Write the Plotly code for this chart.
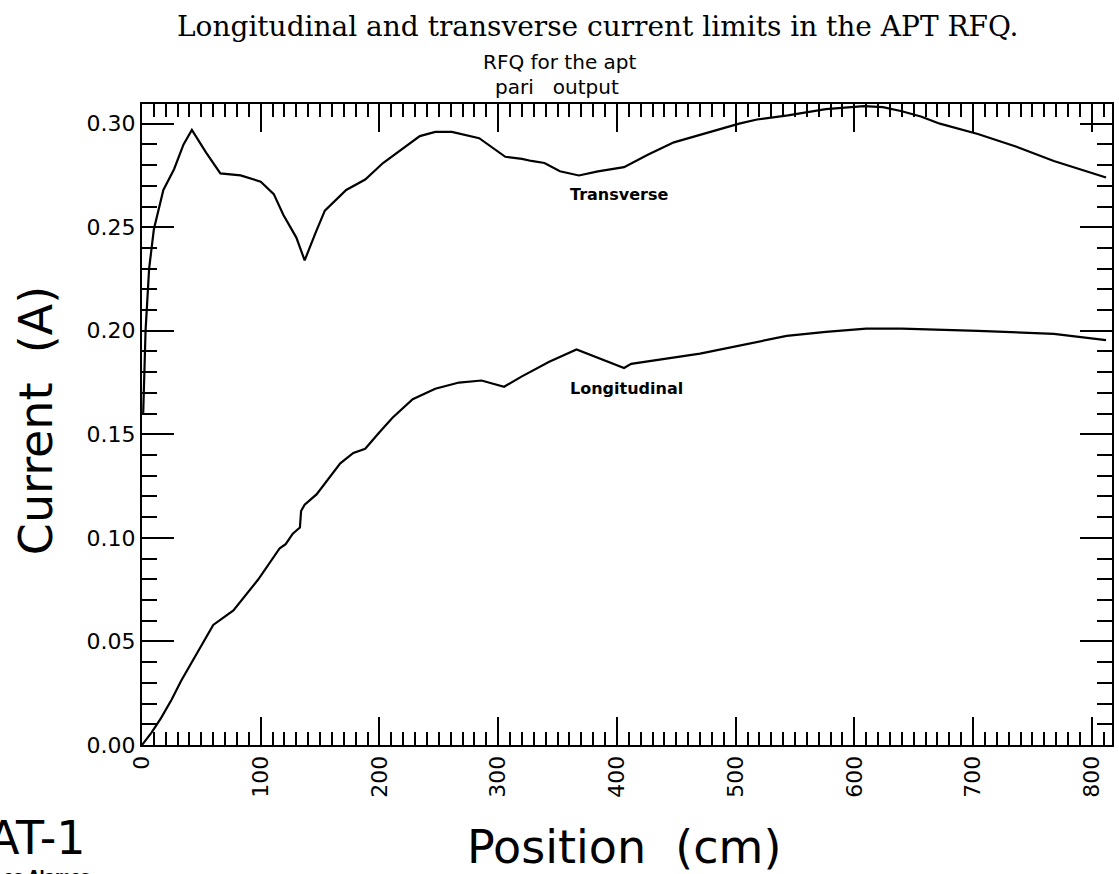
import plotly.graph_objects as go

# Position along the RFQ (cm) and current limits (A)
pos_transverse = [1, 3, 6, 10, 18, 27, 35, 42, 54, 66, 83, 100, 111, 119, 130, 137,
                  146, 154, 172, 188, 203, 217, 234, 247, 261, 284, 306, 320, 328,
                  339, 352, 368, 384, 406, 426, 448, 473, 503, 518, 544, 576, 608,
                  624, 640, 656, 672, 704, 736, 768, 800, 812]
transverse = [0.160, 0.200, 0.230, 0.249, 0.268, 0.278, 0.290, 0.297, 0.286, 0.276,
              0.275, 0.272, 0.266, 0.256, 0.245, 0.234, 0.247, 0.258, 0.268, 0.273,
              0.281, 0.287, 0.294, 0.296, 0.296, 0.293, 0.284, 0.283, 0.282, 0.281,
              0.277, 0.275, 0.277, 0.279, 0.285, 0.291, 0.295, 0.300, 0.302, 0.304,
              0.307, 0.3085, 0.308, 0.306, 0.3035, 0.300, 0.295, 0.289, 0.282,
              0.276, 0.274]

pos_longitudinal = [0, 8, 16, 25, 33, 42, 48, 60, 77, 98, 116, 121, 127, 133, 134,
                    137, 147, 155, 167, 178, 188, 200, 211, 228, 247, 267, 286, 305,
                    320, 343, 366, 406, 412, 470, 543, 576, 610, 640, 704, 768, 812]
longitudinal = [0.000, 0.006, 0.013, 0.022, 0.031, 0.040, 0.046, 0.058, 0.065, 0.080,
                0.095, 0.097, 0.102, 0.105, 0.113, 0.116, 0.121, 0.127, 0.136, 0.141,
                0.143, 0.151, 0.158, 0.167, 0.172, 0.175, 0.176, 0.173, 0.178, 0.185,
                0.191, 0.182, 0.184, 0.189, 0.1975, 0.1995, 0.201, 0.201, 0.200,
                0.1985, 0.1955]

x_range = [0, 817]
y_range = [0, 0.3095]

W, H = 1119, 874
L, R, T, B = 142, 1114, 104, 745

TICK_FONT = "DejaVu Sans"


def px(xp):
    return (xp - L) / (R - L)


def py(yp):
    return (B - yp) / (B - T)


fig = go.Figure()
for xs, ys in ((pos_transverse, transverse), (pos_longitudinal, longitudinal)):
    fig.add_trace(go.Scatter(x=xs, y=ys, mode="lines",
                             line=dict(color="black", width=2.2),
                             hoverinfo="skip"))

axis_common = dict(showline=True, linecolor="black", linewidth=2, mirror="ticks",
                   ticks="inside", tickcolor="black", tickwidth=2,
                   showgrid=False, zeroline=False,
                   tickfont=dict(family=TICK_FONT, size=22, color="black"))

fig.update_xaxes(range=x_range, tick0=0, dtick=100, ticklen=28, tickangle=-90,
                 minor=dict(ticks="inside", dtick=10, ticklen=13, tickwidth=2,
                            tickcolor="black", showgrid=False),
                 **axis_common)
fig.update_yaxes(range=y_range, tick0=0, dtick=0.05, tickformat=".2f", ticklen=32,
                 minor=dict(ticks="inside", dtick=0.01, ticklen=15, tickwidth=2,
                            tickcolor="black", showgrid=False),
                 **axis_common)

annotations = [
    dict(text="Longitudinal and transverse current limits in the APT RFQ.",
         x=px(598), y=py(26), font=dict(family="DejaVu Serif", size=28)),
    dict(text="RFQ for the apt", x=px(560), y=py(62),
         font=dict(family=TICK_FONT, size=20)),
    dict(text="pari&nbsp;&nbsp;&nbsp;output", x=px(558), y=py(87),
         font=dict(family=TICK_FONT, size=20)),
    dict(text="Current  (A)", x=px(36), y=py(421), textangle=-90,
         font=dict(family=TICK_FONT, size=46)),
    dict(text="Position  (cm)", x=px(625), y=py(847),
         font=dict(family=TICK_FONT, size=46)),
    dict(text="AT-1", x=px(88), y=py(838), xanchor="right",
         font=dict(family=TICK_FONT, size=46)),
    dict(text="<b>Los Alamos</b>", x=px(92), y=py(877), xanchor="right",
         font=dict(family=TICK_FONT, size=15)),
]
for a in annotations:
    a.setdefault("xanchor", "center")
    fig.add_annotation(xref="paper", yref="paper", yanchor="middle",
                       showarrow=False, **a)

# curve labels placed in data space
for label, xv, yv in (("Transverse", 358.5, 0.2656), ("Longitudinal", 358.5, 0.1723)):
    fig.add_annotation(x=xv, y=yv, xref="x", yref="y", xanchor="left",
                       yanchor="middle", showarrow=False, text=f"<b>{label}</b>",
                       font=dict(family=TICK_FONT, size=16, color="black"))

fig.update_layout(width=W, height=H, autosize=False,
                  margin=dict(l=L, r=W - R, t=T, b=H - B, pad=0),
                  paper_bgcolor="white", plot_bgcolor="white",
                  showlegend=False,
                  font=dict(family=TICK_FONT, color="black"))

fig.write_html("out.html")
